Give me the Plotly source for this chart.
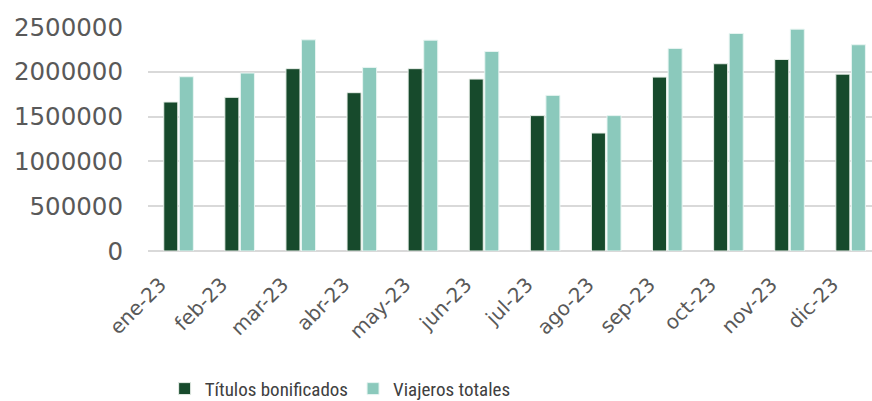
import plotly.graph_objects as go

months = ["ene-23", "feb-23", "mar-23", "abr-23", "may-23", "jun-23",
          "jul-23", "ago-23", "sep-23", "oct-23", "nov-23", "dic-23"]
titulos = [1663000, 1715000, 2035000, 1767000, 2035000, 1919000,
           1511000, 1317000, 1941000, 2090000, 2138000, 1974000]
viajeros = [1945000, 1986000, 2357000, 2049000, 2353000, 2227000,
            1737000, 1511000, 2261000, 2428000, 2476000, 2302000]
yticks = [0, 500000, 1000000, 1500000, 2000000, 2500000]

DARK = "#174A2C"
LIGHT = "#8BC9BC"
GRAY = "#595959"
FONT = "DejaVu Sans"

fig = go.Figure()
fig.add_trace(go.Bar(x=months, y=titulos, name="Títulos bonificados",
                     marker=dict(color=DARK, line=dict(color="#e8efe9", width=1))))
fig.add_trace(go.Bar(x=months, y=viajeros, name="Viajeros totales",
                     marker=dict(color=LIGHT, line=dict(color="#e8f5f2", width=1))))

fig.update_layout(
    width=872, height=401,
    margin=dict(l=148, r=0, t=27, b=150, pad=0, autoexpand=False),
    paper_bgcolor="white", plot_bgcolor="white",
    barmode="group", bargap=0.49, bargroupgap=0.1,
    font=dict(family=FONT, color=GRAY, size=21),
    showlegend=True,
    legend=dict(orientation="h", x=0.023, xanchor="left", y=-0.615, yanchor="middle",
                font=dict(family="Roboto Condensed, Roboto, sans-serif", size=19, color="#404040"),
                itemwidth=30, traceorder="normal"),
)
fig.update_yaxes(range=[0, 2500000], tickvals=yticks, ticktext=[str(v) for v in yticks],
                 showgrid=True, gridcolor="#D9D9D9", gridwidth=2,
                 zeroline=True, zerolinecolor="#D9D9D9", zerolinewidth=2,
                 showline=False, ticks="", tickfont=dict(size=24.5, color=GRAY),
                 ticklabelstandoff=24, automargin=False)
fig.update_xaxes(range=[-0.5, 11.35], tickangle=-45, showgrid=False, showline=False,
                 ticks="", tickfont=dict(size=20, color=GRAY),
                 ticklabelshift=-18, ticklabelstandoff=17, automargin=False)

fig.write_html("out.html", config={"displayModeBar": False},
               post_script="document.body.style.margin='0';document.body.style.padding='0';")
